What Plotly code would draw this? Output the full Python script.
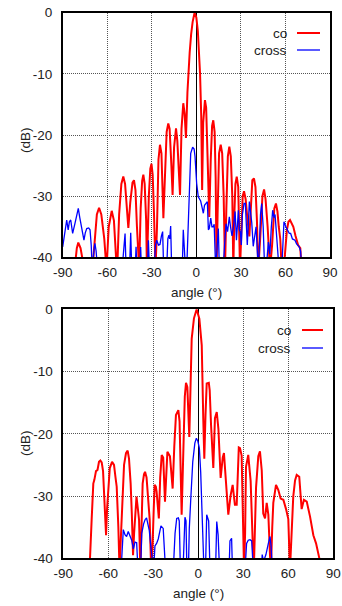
import plotly.graph_objects as go

# ---------------- data ----------------
# top panel, co-polar
top_co_angle = [-82, -80.5, -79.5, -78, -76.5, -75, -70, -68.8, -67, -65.5, -64, -62, -60.5,
                -59, -57, -55.5, -53.6, -53, -52, -50.5, -49.2, -48, -46.5, -45.8, -44.5, -43, -42,
                -41, -40, -39.1, -38.5, -37.5, -36.5, -35.7, -34.8, -33.8, -33.3, -32, -31, -30.2,
                -29.4, -28.5, -27.5, -26.5, -25.5, -24.5, -23.5, -22.2, -21, -20, -18.9, -18, -16.8,
                -16, -15, -14.2, -13.7, -12.8, -11.8, -11, -10, -9.3, -8.8, -7.9, -7, -6, -5.4,
                -4.5, -3.5, -2.5, -1.2, 0, 1, 2, 2.5, 3.3, 3.6, 3.9, 4.6, 5.2, 5.8, 6.6, 7.5, 8.7,
                9.7, 10.6, 11.4, 12.3, 13, 13.6, 14.3, 15.3, 16.4, 17.4, 18.4, 19.3, 20.2, 21.2,
                22.2, 23.2, 24.2, 24.9, 25.6, 26.3, 27.2, 28.2, 29.4, 30.3, 31.2, 32.1, 33.2, 34.5,
                35.7, 36.7, 37.7, 38.8, 39.8, 40.8, 41.7, 43.2, 44.5, 45.6, 46.6, 48, 49.6, 51,
                52.5, 53.6, 54.6, 55.5, 56.5, 57.5, 59.5, 61, 62, 63.1, 64.2, 65.3, 66.8, 68.5,
                70, 70.9]
top_co_db = [-42, -38.5, -37.6, -38.5, -40.5, -42, -42, -38, -33, -31.9, -33, -37, -42,
             -35, -32.4, -34, -42, -40, -33, -28, -26.8, -28, -33, -35.2, -31, -27.8, -27.4,
             -29, -35, -42, -42, -32, -27.5, -26.5, -28, -34, -42, -30, -25.5, -24.7,
             -26.5, -33, -42, -35, -24, -21.6, -23, -33.6, -26, -19.5, -18.1, -19, -25,
             -29.8, -22, -19.3, -18.9, -21, -27, -29.8, -19, -15, -14.8, -16.5, -20.5, -13, -10,
             -6.5, -3.5, -1.5, 0, -0.8, -3, -7, -10, -17, -22, -29, -18, -15, -14.3, -15.5, -22, -33.4,
             -24, -18.5, -17.6, -19.5, -27, -42, -33, -23, -21.6, -23, -30, -42, -32, -23.5,
             -21.9, -23.5, -30, -42, -33, -28, -26.8, -28.5, -42, -35, -30, -29.2, -30.5, -34,
             -36.6, -32, -27.4, -27.1, -28.5, -34, -42, -36, -30, -28.9, -30.5, -35, -42, -38,
             -32, -31.2, -32.5, -35, -37, -42, -40, -35.5, -34.2, -33.9, -34.5, -35, -36.5, -38,
             -38.5, -42]

# top panel, cross-polar
top_cross_angle = [-90, -88.5, -87.3, -86.3, -85.5, -84.6, -83.3, -81.7, -80.5, -79.5, -78.5, -77.9,
                   -76.5, -75.7, -74.8, -73.8, -72.5, -71.6, -70.8, -70.1, -68.8, -68.3, -67.5, -66.5,
                   -50, -48.9, -48, -47.3, -45, -44.2, -43.5, -41.2, -40.6, -40, -38, -37.5, -37,
                   -33, -32.3, -31.6, -28.5, -27.5, -26.7, -25.5, -24.5, -23.5, -22.7, -22, -20,
                   -19.2, -18.5, -17.9, -17.3, -16.6, -9.5, -8.8, -8.2, -7.3, -6.5, -5.5, -4.8, -3.8,
                   -2.5, -1.5, -0.9, 0.2, 1.3, 2.5, 2.9, 4, 4.7, 5.5, 7, 7.4, 8.1, 8.7, 9.7, 10.5,
                   11.4, 12, 13, 14, 14.8, 15.5, 18, 19, 20, 21, 22.2, 23, 24, 25, 26.1, 27, 28.3,
                   29, 29.6, 30.3, 31, 32.1, 33, 34.3, 35.7, 37.3, 38.3, 40.2, 41.7, 42.5, 43.2, 44,
                   45, 46, 47, 48.5, 49.5, 50.5, 51.4, 52.3, 53, 54.5, 55.7, 57.5, 58.3, 59, 60.3,
                   61.5, 62.6, 63.5, 64.7, 66.4, 67.5, 69.3, 70.2, 71]
top_cross_db = [-38.3, -35.5, -33.9, -35.5, -34.2, -33.9, -36.1, -34.4, -33, -32, -33.5, -34.2,
                -36, -37.2, -36, -35.3, -35.2, -35.5, -38, -42, -38.5, -37.7, -39, -42,
                -42, -38, -36.1, -42, -42, -36, -42, -42, -38.3, -42, -42, -38.3, -42,
                -42, -37.2, -42, -42, -38, -37.2, -38, -37.9, -36.5, -35.8, -42, -42,
                -37, -36.4, -37, -34.9, -42, -42, -35.5, -38, -42, -42, -36, -30.1, -23,
                -22, -22.3, -23.5, -27.9, -30.1, -30.6, -30.8, -32, -32.8, -31.5, -31, -30.9, -35.5,
                -35.3, -33.6, -35, -35, -34.6, -42, -38, -35.3, -42, -42, -38, -34.5, -35.8, -33.4,
                -35, -36.5, -35, -32.5, -37.2, -32.3, -35.5, -35.8, -38, -33, -31.2, -31.2, -38,
                -30.9, -34.3, -38.2, -35, -42, -38, -33, -31.2, -35, -42, -42, -37.5, -39.5, -35,
                -32.3, -33.5, -33, -38, -42, -42, -36, -34.2, -35, -35.5, -36.1, -36.1, -37, -37.2,
                -37.8, -38.3, -39, -42]

# bottom panel, co-polar
bot_co_angle = [-73.3, -72.2, -71.1, -70, -69.3, -68.2, -67.2, -66.2, -65.3, -64.4, -63.5, -62.9,
                -62.2, -61.5, -60.8, -60, -59, -57.5, -56.2, -55.2, -54.4, -53.3, -52.5, -51.5,
                -50.4, -49.5, -48.2, -47.1, -46.2, -45.1, -44.3, -43.5, -42.8, -42.2, -41.2, -40.3,
                -39.5, -38.6, -38, -37.1, -36.2, -35.5, -34.5, -34, -33, -32.4, -31.4, -30.5, -29.7,
                -29.1, -28.3, -27.8, -26.3, -25.4, -24.4, -23.4, -22.2, -21.3, -20.6, -18.9, -17.1,
                -16, -14.9, -13.3, -12.5, -11.1, -10, -9, -8.2, -7.3, -6, -5.2, -4.4, -2.9, -1.1,
                0.7, 2.3, 3.3, 4, 4.8, 5.6, 7, 7.6, 8.5, 10, 11.1, 12.3, 13.4, 14.9, 16.3, 17.1,
                18.9, 20, 21.6, 22.9, 24.4, 25.6, 27, 27.8, 28.9, 29.6, 30.5, 31.2, 31.8, 33.3,
                34.9, 36.3, 37, 38.5, 40, 41.1, 42.3, 43.3, 44.5, 45.6, 46.7, 47.8, 48.4, 49.3, 50,
                51.8, 53.3, 54.9, 56.7, 58.5, 60, 61.1, 62.5, 63.3, 64.5, 65.6, 67.3, 68.9, 70.4,
                72.3, 74.5, 76.7, 78.5, 80.7, 81.5]
bot_co_db = [-42, -40, -33.8, -28, -27.4, -26, -25.8, -24.5, -24.3, -24.6, -26, -28.5,
             -32, -36.3, -32, -28, -25.5, -24.5, -25, -27, -28.5, -35, -42, -36,
             -28.5, -25, -23.1, -22.7, -24, -28, -33, -39.5, -36, -33.8, -30.1, -32,
             -33.8, -42, -36, -28, -26.5, -26.1, -27, -28.5, -32, -33.8, -42, -38, -32,
             -28.2, -28.5, -29.3, -33.6, -27, -23.4, -23.8, -30.9, -27, -22.9, -23.6, -28.8,
             -22, -17, -16.2, -18, -33, -21.8, -14, -11.8, -12.5, -20.5, -10, -4.7, -1.45, 0,
             -1.5, -5.8, -17.5, -24, -17, -11.9, -11.8, -13, -18.6, -25.5, -17.5, -16.5, -19.2, -27.1, -23.8, -23.1,
             -29.3, -33, -29.8, -28.2, -31.4, -31.4, -22.2, -22.3, -23.5, -33.8, -42, -36, -25.3, -23.4,
             -27.6, -37.7, -42, -28.6, -23.6, -22.8, -25.9, -32.8, -33.6, -31.1, -33, -39.5, -42, -35, -31.1,
             -28.2, -29, -30.4, -30.6, -32.1, -33.7, -42, -35, -30.1, -27.5, -26.6, -26.9, -32.1, -30.6,
             -30.9, -33.3, -36.3, -37.6, -40, -42]

# bottom panel, cross-polar
bot_cross_angle = [-51.5, -50.5, -50, -48.9, -47.8, -46.7, -45.6, -44.4, -43.3, -42.2, -41.1, -40.2,
                   -38.5, -37.7, -36.5, -35.5, -34.5, -33.7, -32.7, -31.6, -31.1, -30.5,
                   -29.8, -28.9, -27.8, -26.7, -25.5, -24.9, -23.4, -22.6, -21.8,
                   -16.7, -15.5, -14.4, -13.3, -12.7, -11.9, -10.2, -9.5, -8.9, -8.2, -7.6,
                   -6.6, -6, -5, -3.7, -2.3, -1.3, -0.3, 0.7, 1.6, 2.9, 3.8, 4.8, 5.6, 6.9, 7.8,
                   11.5, 12.3, 13.2, 14.2, 20.5, 21.1, 22.2, 22.8, 31.1, 32.2, 33.3, 34.5, 35.6, 36.7,
                   42, 42.6, 43.5, 45.1, 46.7, 47.8, 48.5, 49.4]
bot_cross_db = [-42, -37, -35.4, -36.2, -36.5, -35.7, -36.3, -37.1, -38.5, -37.4, -37.5, -42,
                -42, -36, -34.5, -33.8, -33.5, -34.5, -35.5, -38.2, -39.5, -42,
                -42, -38, -37.6, -36.9, -35.5, -34.8, -35.2, -38, -42,
                -42, -36, -33.6, -33.5, -34, -42, -42, -34.5, -33.4, -34, -42,
                -42, -35.2, -30.4, -24.5, -21.5, -20.7, -21.2, -22.3, -26.2, -33.6, -42, -42, -33, -34, -42,
                -42, -34.1, -36.2, -42, -42, -37.2, -36.8, -42, -42, -37.6, -37.1, -37, -37.2, -42,
                -42, -39.4, -40.5, -39.4, -37.6, -36.5, -38, -42]

x_ticks = [-90, -60, -30, 0, 30, 60, 90]
y_ticks = [-40, -30, -20, -10, 0]
series_names = ["co", "cross"]
series_colors = ["#ff0000", "#0000ff"]

# ---------------- figure ----------------
W, H = 342, 606
FONT = "Liberation Sans, Arial, sans-serif"


def px_x(p):
    return p / W


def px_y(p):
    return 1 - p / H


fig = go.Figure()
panels = [
    (top_co_angle, top_co_db, top_cross_angle, top_cross_db, "x", "y"),
    (bot_co_angle, bot_co_db, bot_cross_angle, bot_cross_db, "x2", "y2"),
]
for ca, cd, xa, xd, xr, yr in panels:
    fig.add_trace(go.Scatter(x=ca, y=cd, mode="lines", name=series_names[0],
                             line=dict(color=series_colors[0], width=2), xaxis=xr, yaxis=yr,
                             showlegend=False))
    fig.add_trace(go.Scatter(x=xa, y=xd, mode="lines", name=series_names[1],
                             line=dict(color=series_colors[1], width=1.3), xaxis=xr, yaxis=yr,
                             showlegend=False))

common_axis = dict(
    showline=True, mirror=True, linecolor="black", linewidth=1.5,
    showgrid=True, gridcolor="#555555", griddash="1px,1px", gridwidth=1,
    ticks="", tickfont=dict(family=FONT, size=13.5, color="#222222"),
    automargin=False,
)

# plot areas in pixel coordinates
top_box = (62.7, 330.0, 12.7, 257.3)
bot_box = (63.3, 333.3, 309.3, 558.3)

for idx, box in enumerate([top_box, bot_box]):
    l, r, t, b = box
    xname = "xaxis" if idx == 0 else "xaxis2"
    yname = "yaxis" if idx == 0 else "yaxis2"
    fig.layout[xname] = dict(
        domain=[px_x(l), px_x(r)], range=[-90, 90], tickvals=x_ticks,
        ticktext=[str(v) for v in x_ticks], anchor="y" if idx == 0 else "y2",
        zeroline=True, zerolinecolor="black", zerolinewidth=1.2,
        ticklabelstandoff=2, **common_axis)
    fig.layout[yname] = dict(
        domain=[px_y(b), px_y(t)], range=[-40, 0], tickvals=y_ticks,
        ticktext=[str(v) for v in y_ticks], anchor="x" if idx == 0 else "x2",
        zeroline=False, ticklabelstandoff=6, **common_axis)

annotations = []
shapes = []
# axis titles
for (cx, cy) in [(196, 292), (198, 593)]:
    annotations.append(dict(x=px_x(cx), y=px_y(cy), xref="paper", yref="paper",
                            text="angle (°)", showarrow=False, xanchor="center", yanchor="middle",
                            font=dict(family=FONT, size=13.5, color="#222222")))
for (cx, cy) in [(25, 140), (25, 443)]:
    annotations.append(dict(x=px_x(cx), y=px_y(cy), xref="paper", yref="paper",
                            text="(dB)", showarrow=False, textangle=-90, xanchor="center",
                            yanchor="middle", font=dict(family=FONT, size=13.5, color="#222222")))

# gnuplot-style keys (text right-aligned, sample line on the right)
keys = [
    (289, 297, 320, [33, 50]),
    (293, 302, 323, [330, 348]),
]
for tx, lx0, lx1, ys in keys:
    for name, color, yy in zip(series_names, series_colors, ys):
        annotations.append(dict(x=px_x(tx), y=px_y(yy), xref="paper", yref="paper",
                                text=name, showarrow=False, xanchor="right", yanchor="middle",
                                font=dict(family=FONT, size=13.5, color="#222222")))
        shapes.append(dict(type="line", xref="paper", yref="paper",
                           x0=px_x(lx0), x1=px_x(lx1), y0=px_y(yy), y1=px_y(yy),
                           line=dict(color=color, width=2 if name == "co" else 1.3)))

fig.update_layout(
    width=W, height=H, margin=dict(l=0, r=0, t=0, b=0),
    paper_bgcolor="white", plot_bgcolor="white",
    annotations=annotations, shapes=shapes, showlegend=False,
    font=dict(family=FONT),
)

fig.write_html("out.html")
